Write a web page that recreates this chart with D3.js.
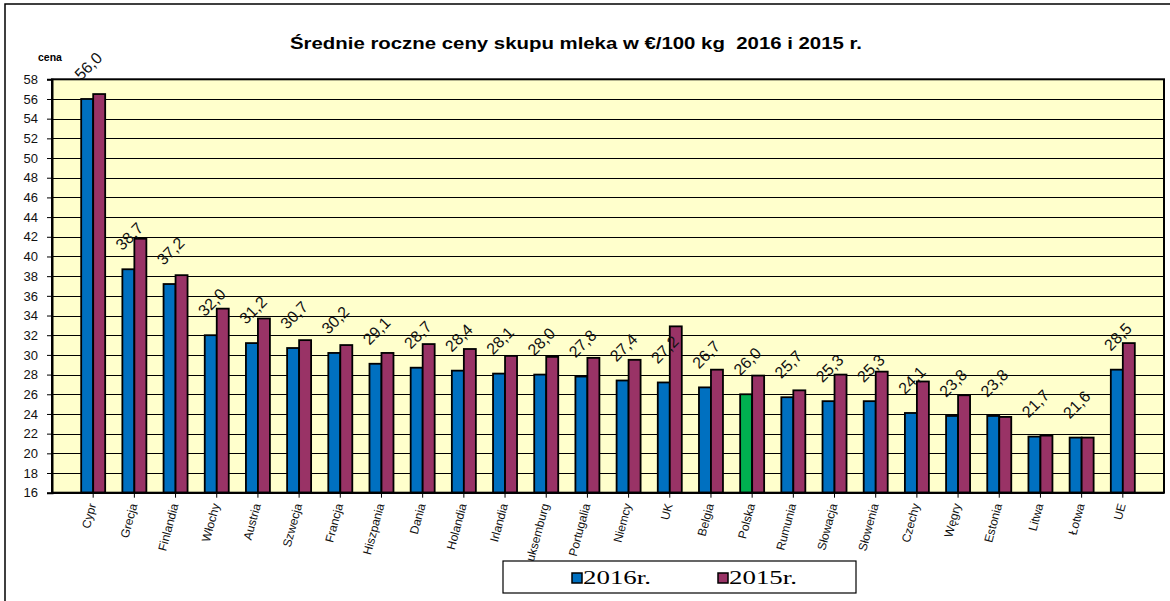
<!DOCTYPE html>
<html>
<head>
    <meta charset="utf-8">
    <title>Średnie roczne ceny skupu mleka</title>
    <script src="https://cdnjs.cloudflare.com/ajax/libs/d3/7.8.5/d3.min.js"></script>
    <style>
        body { margin: 0; background: #fff; }
        svg { display: block; font-family: Arial, "Liberation Sans", sans-serif; }
        .grid line { stroke: #000; stroke-width: 1; shape-rendering: crispEdges; }
        .grid path { stroke-width: 0; }
        .bar { stroke: #000; stroke-width: 1.8; }
        .y-axis text { font-size: 13px; fill: #111; }
        .x-axis text { font-size: 12px; fill: #111; }
        .value-label { font-size: 16px; fill: #111; }
    </style>
</head>
<body>
    <div class="chart-container"></div>
    <script>
        // dane
        const countries = ["Cypr", "Grecja", "Finlandia", "Włochy", "Austria", "Szwecja", "Francja",
            "Hiszpania", "Dania", "Holandia", "Irlandia", "Luksemburg", "Portugalia", "Niemcy", "UK",
            "Belgia", "Polska", "Rumunia", "Słowacja", "Słowenia", "Czechy", "Węgry", "Estonia",
            "Litwa", "Łotwa", "UE"];
        const values2016 = [56.0, 38.7, 37.2, 32.0, 31.2, 30.7, 30.2, 29.1, 28.7, 28.4, 28.1, 28.0,
            27.8, 27.4, 27.2, 26.7, 26.0, 25.7, 25.3, 25.3, 24.1, 23.8, 23.8, 21.7, 21.6, 28.5];
        const values2015 = [56.5, 41.8, 38.1, 34.7, 33.7, 31.5, 31.0, 30.2, 31.1, 30.6, 29.9, 29.8,
            29.7, 29.5, 32.9, 28.5, 27.9, 26.4, 28.0, 28.3, 27.3, 25.9, 23.7, 21.8, 21.6, 31.2];
        const seriesNames = ["2016r.", "2015r."];
        const yTickValues = [16, 18, 20, 22, 24, 26, 28, 30, 32, 34, 36, 38, 40, 42, 44, 46, 48,
            50, 52, 54, 56, 58];

        const W = 1170, H = 601;
        const plot = {left: 52, right: 1164, top: 79.3, bottom: 492.7};
        const slot = (plot.right - plot.left) / (countries.length + 1);

        const svg = d3.select(".chart-container")
            .append("svg")
            .attr("width", W)
            .attr("height", H);

        // ramka wykresu (widoczna tylko góra i lewa strona)
        svg.append("rect")
            .attr("x", 5).attr("y", 4)
            .attr("width", W + 20).attr("height", H + 20)
            .attr("fill", "#fff")
            .attr("stroke", "#000")
            .attr("stroke-width", 1.5);

        const x = d3.scaleBand()
            .domain(countries)
            .range([plot.left + slot / 2, plot.right - slot / 2])
            .padding(0);

        const y = d3.scaleLinear()
            .domain([16, 58])
            .range([plot.bottom, plot.top]);

        const color = d3.scaleOrdinal()
            .domain(seriesNames)
            .range(["#0070C0", "#993366"]);

        // tło obszaru kreślenia
        svg.append("rect")
            .attr("x", plot.left).attr("y", plot.top)
            .attr("width", plot.right - plot.left)
            .attr("height", plot.bottom - plot.top)
            .attr("fill", "#FFFFCC");

        svg.append("g")
            .attr("class", "grid")
            .attr("transform", `translate(${plot.left},0)`)
            .call(d3.axisLeft(y)
                .tickValues(yTickValues)
                .tickSize(-(plot.right - plot.left))
                .tickFormat(""));

        // tytuł
        svg.append("text")
            .attr("x", 576)
            .attr("y", 49)
            .attr("text-anchor", "middle")
            .attr("textLength", 572)
            .attr("lengthAdjust", "spacingAndGlyphs")
            .style("font-size", "17px")
            .style("font-weight", "bold")
            .style("white-space", "pre")
            .text("Średnie roczne ceny skupu mleka w €/100 kg  2016 i 2015 r.");

        svg.append("text")
            .attr("x", 50)
            .attr("y", 61)
            .attr("text-anchor", "middle")
            .style("font-size", "10.5px")
            .style("font-weight", "bold")
            .text("cena");

        const barW = 12;
        const rows = countries.map((c, i) => ({country: c, v16: values2016[i], v15: values2015[i]}));

        // słupki 2016
        svg.append("g")
            .selectAll("rect")
            .data(rows)
            .join("rect")
            .attr("class", "bar")
            .attr("x", d => x(d.country) + x.bandwidth() / 2 - barW)
            .attr("y", d => y(d.v16))
            .attr("width", barW)
            .attr("height", d => y(16) - y(d.v16))
            .attr("fill", d => d.country === "Polska" ? "#00B050" : color("2016r."));

        // słupki 2015
        svg.append("g")
            .selectAll("rect")
            .data(rows)
            .join("rect")
            .attr("class", "bar")
            .attr("x", d => x(d.country) + x.bandwidth() / 2)
            .attr("y", d => y(d.v15))
            .attr("width", barW)
            .attr("height", d => y(16) - y(d.v15))
            .attr("fill", color("2015r."));

        // ramka obszaru kreślenia
        svg.append("rect")
            .attr("x", plot.left).attr("y", plot.top)
            .attr("width", plot.right - plot.left)
            .attr("height", plot.bottom - plot.top)
            .attr("fill", "none")
            .attr("stroke", "#000")
            .attr("stroke-width", 2);

        // osie
        const yAxis = svg.append("g")
            .attr("class", "y-axis")
            .attr("transform", `translate(${plot.left},0)`)
            .call(d3.axisLeft(y).tickValues(yTickValues).tickSize(5).tickPadding(9));
        yAxis.select(".domain").attr("stroke-width", 2);

        const xAxis = svg.append("g")
            .attr("class", "x-axis")
            .attr("transform", `translate(0,${plot.bottom})`)
            .call(d3.axisBottom(x).tickSize(5).tickSizeOuter(0));
        xAxis.select(".domain").remove();
        xAxis.selectAll("text")
            .attr("text-anchor", "end")
            .attr("dy", 0)
            .attr("y", 0)
            .attr("transform", `translate(3,12) rotate(-75)`);

        // etykiety wartości 2016
        const fmt = v => d3.format(".1f")(v).replace(".", ",");
        svg.append("g")
            .selectAll("text")
            .data(rows)
            .join("text")
            .attr("class", "value-label")
            .attr("transform", d => {
                const cx = x(d.country) + x.bandwidth() / 2 - barW / 2;
                return `translate(${cx - 6},${y(d.v16) - 18}) rotate(-45)`;
            })
            .text(d => fmt(d.v16));

        // legenda
        const legend = svg.append("g");
        legend.append("rect")
            .attr("x", 503).attr("y", 561)
            .attr("width", 353).attr("height", 32)
            .attr("fill", "#fff")
            .attr("stroke", "#000")
            .attr("stroke-width", 1.2);

        seriesNames.forEach((name, i) => {
            const g = legend.append("g")
                .attr("transform", `translate(${572 + i * 146},573)`);
            g.append("rect")
                .attr("width", 10).attr("height", 10)
                .attr("fill", color(name))
                .attr("stroke", "#000")
                .attr("stroke-width", 1.5);
            g.append("text")
                .attr("x", 11)
                .attr("y", 11)
                .attr("textLength", 68)
                .attr("lengthAdjust", "spacingAndGlyphs")
                .style("font-family", "'Liberation Serif', 'Times New Roman', serif")
                .style("font-size", "19px")
                .text(name);
        });
    </script>
</body>
</html>
